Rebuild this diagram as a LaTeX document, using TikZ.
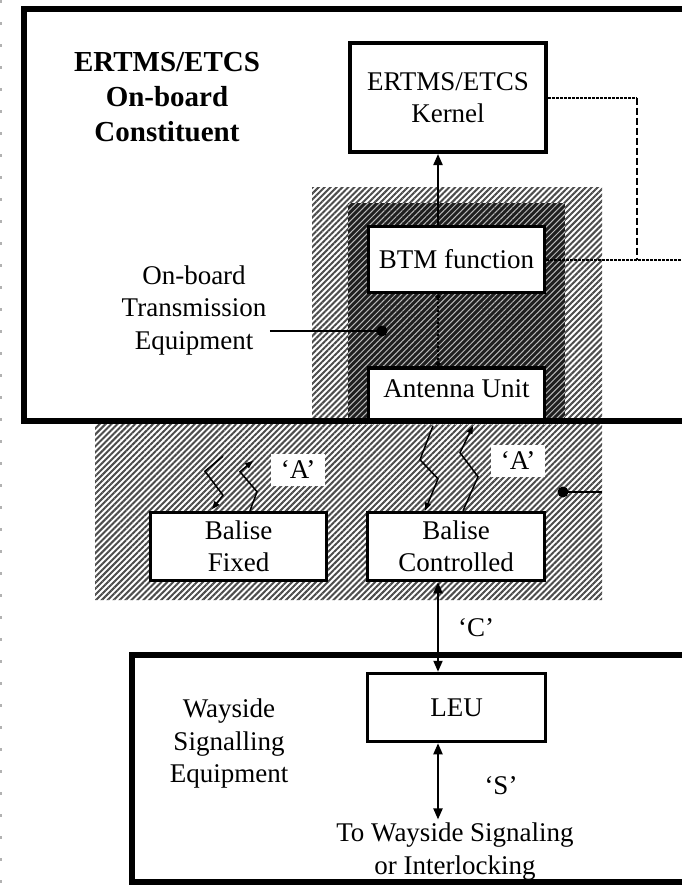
\documentclass[tikz,border=0pt]{standalone}
\usepackage{fontspec}
\setmainfont{Liberation Serif}
\usetikzlibrary{arrows.meta,patterns.meta}

\begin{document}
\begin{tikzpicture}[x=1pt,y=-1pt,
  every node/.style={font=\fontsize{27}{32.5}\selectfont},
  blk/.style={draw,line width=3.5pt,fill=white,align=center,inner sep=0pt},
  txt/.style={align=center},
  ifc/.style={fill=white,inner xsep=10pt,inner ysep=7pt},
  link/.style={line width=2pt,-{Triangle[length=11pt,width=9pt]}},
  biglink/.style={line width=2pt,{Triangle[length=11pt,width=9pt]}-{Triangle[length=11pt,width=9pt]}},
  wave/.style={line width=1.5pt,-{Triangle[length=8pt,width=6pt]}},
  rim/.style={line width=6pt},
  lighthatch/.style={preaction={fill=white},pattern={Lines[angle=45,distance=4.2pt,line width=2pt]},pattern color=black!70},
  darkhatch/.style={preaction={fill=black!88},pattern={Lines[angle=45,distance=4.2pt,line width=1pt]},pattern color=gray!55}]
\useasboundingbox (0,0) rectangle (682,886);
\clip (0,0) rectangle (682,886);

\draw[black!30,line width=1.5pt,dash pattern=on 3pt off 19pt] (1,0) -- (1,886);

\path[lighthatch] (312,187) -- (602,187) -- (602,600) -- (95,600) -- (95,424) -- (312,424) -- cycle;
\path[darkhatch] (348,203) rectangle (565,424);

\node[blk,minimum width=196pt,minimum height=109pt,line width=4pt] (kernel) at (448,97.5) {ERTMS/ETCS\\Kernel};
\node[blk,minimum width=176pt,minimum height=66pt] (btm) at (456.5,259.5) {BTM function};
\node[blk,minimum width=176pt,minimum height=52pt,text depth=10pt] (antenna) at (456.5,394) {Antenna Unit};
\node[blk,minimum width=176pt,minimum height=68pt] (fixed) at (238.5,546.5) {Balise\\Fixed};
\node[blk,minimum width=177pt,minimum height=68pt] (controlled) at (456,546.5) {Balise\\Controlled};
\node[blk,minimum width=178pt,minimum height=68pt] (leu) at (456.5,707.5) {LEU};

\draw[rim] (24,8.5) rectangle (700,421);
\draw[rim] (132,654.5) rectangle (700,882);

\node[font=\fontsize{29}{35}\selectfont\bfseries,align=center] (constituent) at (167,97) {ERTMS/ETCS\\On-board\\Constituent};
\node[txt] (obte) at (194,310.5) {On-board\\Transmission\\Equipment};
\node[txt] (wse) at (229,743.5) {Wayside\\Signalling\\Equipment};
\node[txt] (tows) at (455,851.5) {To Wayside Signaling\\or Interlocking};

\coordinate (axis) at (438,0);
\draw[link] (btm.north -| axis) -- (kernel.south -| axis);
\draw[line width=2pt,dotted,{Circle[length=5pt]}-{Circle[length=5pt]}] (btm.south -| axis) -- (antenna.north -| axis);
\draw[biglink] (controlled.south -| axis) -- (leu.north -| axis);
\draw[biglink] (leu.south -| axis) -- (tows.north -| axis);

\coordinate (bend) at (637,0);
\coordinate (rightedge) at (700,0);
\draw[line width=2pt,dash pattern=on 2.5pt off 1.5pt] (kernel.east) -- (kernel.east -| bend);
\draw[line width=1.5pt,dash pattern=on 7pt off 3pt] (kernel.east -| bend) -- (btm.east -| bend);
\draw[line width=2pt,dash pattern=on 2.5pt off 1.5pt] (btm.east) -- (btm.east -| rightedge);

\coordinate (obtedot) at (382,331);
\draw[line width=1.5pt] (obte.east |- obtedot) -- (obtedot);
\fill (obtedot) circle (5.5);
\coordinate (baldot) at (563,492);
\coordinate (hatchedge) at (602,0);
\draw[line width=1.5pt] (baldot) -- (baldot -| hatchedge);
\fill (baldot) circle (5.5);

\draw[wave] ([shift={(-15.5,-54.5)}]fixed.north) -- ++(-18,15) -- ++(18,24) -- ++(-11,14);
\draw[wave] ([shift={(11.5,0)}]fixed.north) -- ++(7,-19) -- ++(-17,-20) -- ++(13,-11);
\draw[wave] ([shift={(-23.5,4)}]antenna.south) -- ++(-13,34) -- ++(18,19) -- ++(-13,32);
\draw[wave] ([shift={(7,0)}]controlled.north) -- ++(15,-34) -- ++(-18,-24) -- ++(13,-27);

\node[ifc] (afixed) at (298,470) {‘A’};
\node[ifc] (actrl) at (518,461) {‘A’};
\node (clabel) at (476,628) {‘C’};
\node (slabel) at (501,786) {‘S’};
\end{tikzpicture}
\end{document}
